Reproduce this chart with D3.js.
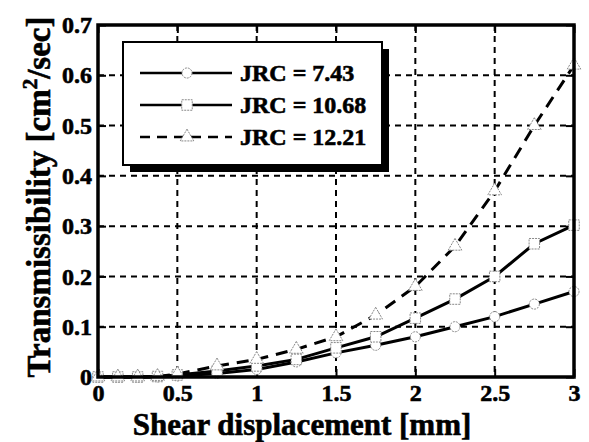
<!DOCTYPE html>
<html><head><meta charset="utf-8">
<script src="https://cdn.jsdelivr.net/npm/d3@7"></script>
<style>body{margin:0;background:#fff}svg{display:block}text{font-family:"Liberation Serif","Times New Roman",serif;font-weight:bold;fill:#000;stroke:#000;stroke-width:0.6px}</style>
</head><body><svg id="c" width="589" height="442"></svg>
<script>
const xVals = [0,0.125,0.25,0.375,0.5,0.75,1,1.25,1.5,1.75,2,2.25,2.5,2.75,3];
const jrc743 = [0,0,0,0,0.002,0.007,0.015,0.03,0.048,0.063,0.08,0.1,0.12,0.145,0.17];
const jrc1068 = [0,0,0,0.001,0.004,0.012,0.022,0.035,0.058,0.08,0.117,0.155,0.2,0.265,0.302];
const jrc1221 = [0,0,0,0.001,0.006,0.022,0.035,0.055,0.08,0.123,0.18,0.26,0.37,0.5,0.62];
const seriesNames = ["JRC = 7.43","JRC = 10.68","JRC = 12.21"];
const xTicks = [0,0.5,1,1.5,2,2.5,3];
const yTicks = [0,0.1,0.2,0.3,0.4,0.5,0.6,0.7];
const xTitle = "Shear displacement [mm]";

const svg = d3.select("#c");
const L=98, R=574, T=25, B=377;
const x = d3.scaleLinear().domain([0,3]).range([L,R]);
const y = d3.scaleLinear().domain([0,0.7]).range([B,T]);

// grid
const g = svg.append("g");
g.selectAll(".gx").data(xTicks.slice(1,-1)).join("line")
  .attr("x1",d=>x(d)).attr("x2",d=>x(d)).attr("y1",T).attr("y2",B)
  .attr("stroke","#000").attr("stroke-width",2).attr("stroke-dasharray","6,5");
g.selectAll(".gy").data(yTicks.slice(1,-1)).join("line")
  .attr("y1",d=>y(d)).attr("y2",d=>y(d)).attr("x1",L).attr("x2",R)
  .attr("stroke","#000").attr("stroke-width",2).attr("stroke-dasharray","6,5");

const styleText = s=>s.selectAll("text").attr("font-size",24).attr("font-family","Liberation Serif").attr("font-weight","bold").attr("fill","#000").attr("stroke","#000").attr("stroke-width",0.6);
// axes with inward ticks
const ax = svg.append("g");
ax.append("g").attr("transform",`translate(0,${B})`).call(d3.axisBottom(x).tickValues(xTicks).tickSize(-8).tickPadding(7).tickFormat(d3.format("")))
  .call(s=>{s.select(".domain").remove();s.selectAll("line").attr("stroke-width",2);}).call(styleText);
ax.append("g").attr("transform",`translate(0,${T})`).call(d3.axisTop(x).tickValues(xTicks).tickSize(-8).tickFormat(""))
  .call(s=>{s.select(".domain").remove();s.selectAll("line").attr("stroke-width",2);});
ax.append("g").attr("transform",`translate(${L},0)`).call(d3.axisLeft(y).tickValues(yTicks).tickSize(-8).tickPadding(6).tickFormat(d=>d===0?"0":d3.format(".1f")(d)))
  .call(s=>{s.select(".domain").remove();s.selectAll("line").attr("stroke-width",2);}).call(styleText);
ax.append("g").attr("transform",`translate(${R},0)`).call(d3.axisRight(y).tickValues(yTicks).tickSize(-8).tickFormat(""))
  .call(s=>{s.select(".domain").remove();s.selectAll("line").attr("stroke-width",2);});

// lines
const line = d3.line().x((d,i)=>x(xVals[i])).y(d=>y(d));
const data = [jrc743, jrc1068, jrc1221];
const dashes = [null,null,"12,8"];
data.forEach((s,k)=>{
  svg.append("path").attr("d",line(s)).attr("fill","none").attr("stroke","#000")
    .attr("stroke-width",3).attr("stroke-dasharray",dashes[k]);
});
const sym = [d3.symbolCircle, d3.symbolSquare, d3.symbolTriangle];
const symSize = [80, 110, 80];
data.forEach((s,k)=>{
  svg.append("g").selectAll("path").data(s).join("path")
    .attr("transform",(d,i)=>`translate(${x(xVals[i])},${y(d)})`)
    .attr("d",d3.symbol().type(sym[k]).size(symSize[k]))
    .attr("fill","#fff").attr("stroke","#888").attr("stroke-width",1).attr("stroke-dasharray","2,1");
});

// frame
svg.append("rect").attr("x",L).attr("y",T).attr("width",R-L).attr("height",B-T)
  .attr("fill","none").attr("stroke","#000").attr("stroke-width",3.5);

// legend
const lg = svg.append("g");
const LX=123, LY=42, LW=259, LH=123;
lg.append("rect").attr("x",LX+7).attr("y",LY+7).attr("width",LW).attr("height",LH).attr("fill","#000");
lg.append("rect").attr("x",LX).attr("y",LY).attr("width",LW).attr("height",LH).attr("fill","#fff").attr("stroke","#000").attr("stroke-width",2);
seriesNames.forEach((n,k)=>{
  const yy = LY+31+k*32;
  lg.append("line").attr("x1",LX+17).attr("x2",LX+109).attr("y1",yy).attr("y2",yy)
    .attr("stroke","#000").attr("stroke-width",2.5).attr("stroke-dasharray",dashes[k]?"10,7":null);
  lg.append("path").attr("transform",`translate(${LX+64},${yy})`)
    .attr("d",d3.symbol().type(sym[k]).size(symSize[k])).attr("fill","#fff").attr("stroke","#888").attr("stroke-width",1).attr("stroke-dasharray","2,1");
  lg.append("text").attr("x",LX+117).attr("y",yy+8).attr("font-size",24).text(n);
});

// titles
svg.append("text").attr("x",302).attr("y",435).attr("text-anchor","middle").attr("font-size",31).text(xTitle);
const yt = svg.append("text").attr("transform","translate(50,197) rotate(-90)").attr("text-anchor","middle").attr("font-size",33);
yt.append("tspan").text("Transmissibility [cm");
yt.append("tspan").attr("font-size",21).attr("dy",-13).text("2");
yt.append("tspan").attr("dy",13).text("/sec]");
</script></body></html>
